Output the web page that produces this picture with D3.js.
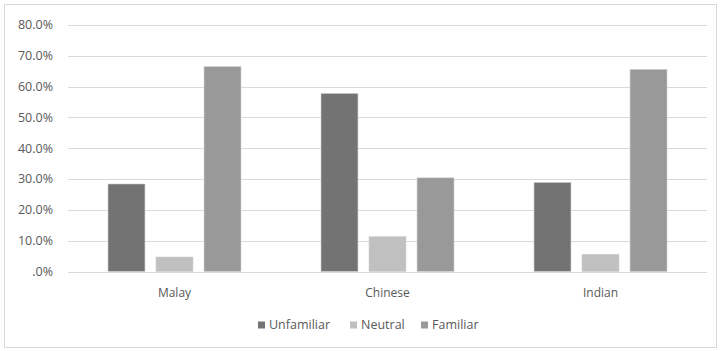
<!DOCTYPE html>
<html><head><meta charset="utf-8">
<script src="https://cdn.jsdelivr.net/npm/d3@7"></script>
<style>body{margin:0;background:#fff}svg{display:block}</style>
</head><body>
<script>
const categories = ["Malay", "Chinese", "Indian"];
const seriesNames = ["Unfamiliar", "Neutral", "Familiar"];
const unfamiliar = [0.284, 0.578, 0.289];
const neutral = [0.047, 0.113, 0.056];
const familiar = [0.665, 0.304, 0.656];
const yTicks = [0, 0.1, 0.2, 0.3, 0.4, 0.5, 0.6, 0.7, 0.8];
const colors = ["#737373", "#c0c0c0", "#999999"];

const seriesValues = [unfamiliar, neutral, familiar];
const W = 721, H = 351;
const margin = {left: 68, right: 14, top: 25, bottom: 79.5};
const svg = d3.select("body").append("svg").attr("width", W).attr("height", H);
svg.append("rect").attr("x", 4.5).attr("y", 4.5).attr("width", W - 9).attr("height", H - 8)
  .attr("fill", "#fff").attr("stroke", "#d9d9d9").attr("stroke-width", 1);

const x0 = d3.scaleBand().domain(categories).range([margin.left, W - margin.right]).padding(0);
const x1 = d3.scaleBand().domain(seriesNames).range([0, x0.bandwidth()]).paddingInner(0.23).paddingOuter(0.833);
const y = d3.scaleLinear().domain([0, 0.8]).range([H - margin.bottom, margin.top]);

const font = "'Open Sans', 'Liberation Sans', sans-serif";
const fmt = v => v === 0 ? ".0%" : d3.format(".1%")(v);

svg.append("g").selectAll("line").data(yTicks).join("line")
  .attr("x1", margin.left).attr("x2", W - margin.right)
  .attr("y1", d => Math.round(y(d)) + 0.5).attr("y2", d => Math.round(y(d)) + 0.5)
  .attr("stroke", "#d9d9d9").attr("stroke-width", 1.2);

svg.append("g").selectAll("text").data(yTicks).join("text")
  .attr("x", 53).attr("y", d => y(d)).attr("dy", "0.35em")
  .attr("text-anchor", "end").attr("font-family", font).attr("font-size", 12.5)
  .attr("fill", "#595959").text(fmt);

const groups = svg.append("g").selectAll("g").data(categories).join("g")
  .attr("transform", d => `translate(${x0(d)},0)`);
groups.selectAll("rect").data((c, i) => seriesNames.map((s, j) => ({s, j, v: seriesValues[j][i]})))
  .join("rect")
  .attr("x", d => x1(d.s)).attr("width", x1.bandwidth())
  .attr("y", d => y(d.v)).attr("height", d => y(0) - y(d.v))
  .attr("fill", d => colors[d.j]).attr("stroke", "#d0d0d0").attr("stroke-width", 0.6);

svg.append("g").selectAll("text").data(categories).join("text")
  .attr("x", d => x0(d) + x0.bandwidth() / 2).attr("y", 293).attr("dy", "0.35em")
  .attr("text-anchor", "middle").attr("font-family", font).attr("font-size", 12)
  .attr("fill", "#595959").text(d => d);

const legendX = [258, 350, 421];
const lg = svg.append("g").selectAll("g").data(seriesNames).join("g")
  .attr("transform", (d, i) => `translate(${legendX[i]},325)`);
lg.append("rect").attr("x", 0).attr("y", -3.5).attr("width", 7).attr("height", 7)
  .attr("fill", (d, i) => colors[i]);
lg.append("text").attr("x", 11).attr("y", 0).attr("dy", "0.35em")
  .attr("font-family", font).attr("font-size", 12.5).attr("fill", "#595959").text(d => d);
</script>
</body></html>
